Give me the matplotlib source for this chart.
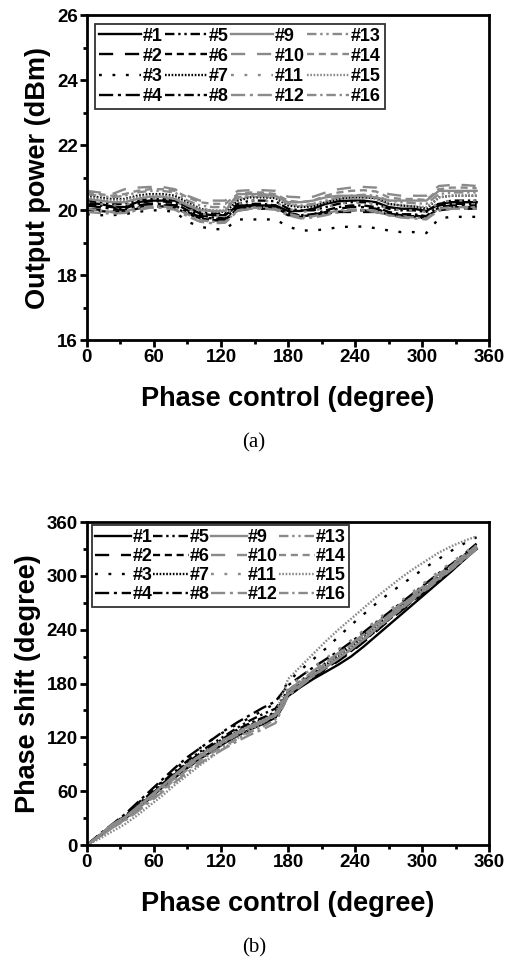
"""Two-panel figure: output power and phase shift versus phase control for 16 channels."""

import matplotlib

matplotlib.use("Agg")
import matplotlib.pyplot as plt
from matplotlib.ticker import MultipleLocator

phase_control = [0, 11.25, 22.5, 33.75, 45, 56.25, 67.5, 78.75, 90, 101.25, 112.5, 123.75,
                 135, 146.25, 157.5, 168.75, 180, 191.25, 202.5, 213.75, 225, 236.25, 247.5,
                 258.75, 270, 281.25, 292.5, 303.75, 315, 326.25, 337.5, 348.75]

channels = [f"#{k}" for k in range(1, 17)]

# output power (dBm), one list per channel
power = [
    [20.22, 20.2, 20.12, 20.1, 20.25, 20.3, 20.3, 20.3, 20.1, 19.9, 19.85, 19.85, 20.15, 20.15, 20.15, 20.15,
     19.98, 19.98, 20.05, 20.2, 20.28, 20.3, 20.3, 20.25, 20.1, 20.05, 20.05, 19.98, 20.2, 20.25, 20.25, 20.25],
    [20.05, 20.02, 19.98, 19.95, 20.1, 20.15, 20.15, 20.15, 19.95, 19.75, 19.7, 19.7, 20.0, 20.05, 20.05, 20.05,
     19.85, 19.85, 19.88, 19.92, 19.95, 19.95, 19.95, 19.95, 19.9, 19.85, 19.85, 19.78, 20.0, 20.05, 20.05, 20.05],
    [19.88, 19.85, 19.85, 19.88, 19.95, 20.0, 20.0, 19.95, 19.65, 19.5, 19.42, 19.42, 19.72, 19.72, 19.72, 19.72,
     19.5, 19.38, 19.38, 19.42, 19.48, 19.5, 19.5, 19.45, 19.38, 19.33, 19.33, 19.3, 19.75, 19.8, 19.8, 19.8],
    [20.15, 20.1, 20.05, 20.0, 20.15, 20.2, 20.2, 20.15, 19.95, 19.8, 19.75, 19.72, 20.05, 20.15, 20.15, 20.1,
     19.9, 19.8, 19.85, 19.95, 20.05, 20.1, 20.1, 20.05, 19.9, 19.8, 19.8, 19.75, 20.1, 20.15, 20.15, 20.15],
    [20.3, 20.25, 20.2, 20.2, 20.3, 20.35, 20.35, 20.3, 20.1, 19.95, 19.9, 19.88, 20.2, 20.3, 20.3, 20.28,
     20.05, 20.0, 20.0, 20.1, 20.2, 20.25, 20.25, 20.2, 20.05, 20.0, 20.0, 19.95, 20.2, 20.3, 20.3, 20.3],
    [20.0, 19.98, 19.95, 19.95, 20.05, 20.12, 20.12, 20.08, 19.9, 19.75, 19.7, 19.68, 20.05, 20.1, 20.1, 20.08,
     19.88, 19.82, 19.85, 19.9, 19.95, 20.0, 20.0, 19.95, 19.88, 19.82, 19.82, 19.8, 20.05, 20.1, 20.1, 20.1],
    [20.45, 20.4, 20.35, 20.35, 20.45, 20.5, 20.5, 20.45, 20.25, 20.05, 19.98, 19.95, 20.3, 20.4, 20.4, 20.38,
     20.15, 20.1, 20.12, 20.25, 20.35, 20.4, 20.4, 20.38, 20.2, 20.15, 20.12, 20.05, 20.4, 20.45, 20.45, 20.45],
    [20.2, 20.15, 20.1, 20.05, 20.2, 20.28, 20.28, 20.22, 20.0, 19.85, 19.78, 19.75, 20.1, 20.2, 20.2, 20.15,
     19.92, 19.85, 19.88, 20.0, 20.1, 20.15, 20.15, 20.1, 19.95, 19.88, 19.88, 19.82, 20.15, 20.2, 20.2, 20.2],
    [20.35, 20.3, 20.25, 20.25, 20.35, 20.42, 20.42, 20.35, 20.15, 20.0, 19.98, 19.98, 20.5, 20.5, 20.5, 20.45,
     20.25, 20.25, 20.3, 20.4, 20.45, 20.45, 20.45, 20.4, 20.3, 20.3, 20.3, 20.3, 20.6, 20.6, 20.6, 20.6],
    [20.6, 20.55, 20.5, 20.65, 20.7, 20.72, 20.72, 20.65, 20.45, 20.3, 20.3, 20.3, 20.6, 20.62, 20.62, 20.6,
     20.42, 20.4, 20.42, 20.55, 20.65, 20.7, 20.72, 20.7, 20.5, 20.45, 20.45, 20.45, 20.75, 20.78, 20.78, 20.75],
    [20.25, 20.2, 20.15, 20.15, 20.3, 20.38, 20.38, 20.3, 20.05, 19.9, 19.85, 19.85, 20.2, 20.3, 20.3, 20.25,
     20.05, 19.95, 19.98, 20.1, 20.2, 20.25, 20.25, 20.2, 20.05, 20.0, 20.0, 19.95, 20.25, 20.3, 20.3, 20.3],
    [19.95, 19.92, 19.9, 19.92, 20.0, 20.08, 20.08, 20.02, 19.82, 19.65, 19.6, 19.62, 19.98, 20.05, 20.05, 20.02,
     19.85, 19.75, 19.78, 19.85, 19.95, 20.0, 20.0, 19.95, 19.85, 19.78, 19.75, 19.72, 20.0, 20.05, 20.05, 20.05],
    [20.5, 20.45, 20.4, 20.45, 20.55, 20.6, 20.6, 20.55, 20.3, 20.15, 20.1, 20.1, 20.4, 20.45, 20.45, 20.42,
     20.2, 20.15, 20.2, 20.3, 20.4, 20.45, 20.48, 20.45, 20.3, 20.25, 20.22, 20.2, 20.5, 20.55, 20.55, 20.55],
    [20.55, 20.5, 20.45, 20.5, 20.6, 20.65, 20.65, 20.6, 20.4, 20.25, 20.2, 20.2, 20.5, 20.55, 20.55, 20.5,
     20.3, 20.25, 20.3, 20.45, 20.55, 20.6, 20.62, 20.58, 20.4, 20.35, 20.35, 20.32, 20.65, 20.7, 20.7, 20.68],
    [20.4, 20.35, 20.3, 20.32, 20.4, 20.45, 20.45, 20.4, 20.2, 20.05, 20.0, 20.0, 20.35, 20.42, 20.42, 20.4,
     20.2, 20.12, 20.15, 20.25, 20.35, 20.38, 20.4, 20.35, 20.2, 20.15, 20.12, 20.1, 20.4, 20.45, 20.45, 20.45],
    [20.05, 20.0, 19.95, 19.95, 20.08, 20.12, 20.12, 20.08, 19.88, 19.7, 19.65, 19.65, 20.0, 20.08, 20.08, 20.05,
     19.9, 19.8, 19.82, 19.9, 20.0, 20.02, 20.02, 19.98, 19.85, 19.8, 19.78, 19.75, 20.05, 20.1, 20.1, 20.1],
]

# measured phase shift (degree), one list per channel
shift = [
    [0, 10, 20, 29, 40, 52, 64, 75, 86, 96, 105, 114, 122, 129, 135, 142, 166, 176, 185, 193, 201, 210, 221, 233,
     245, 257, 269, 281, 293, 305, 318, 330],
    [0, 11, 21, 31, 43, 55, 67, 79, 90, 100, 109, 117, 124, 130, 135, 140, 165, 177, 187, 196, 205, 215, 226, 238,
     250, 261, 272, 284, 295, 306, 318, 330],
    [0, 11, 22, 33, 46, 58, 71, 84, 97, 108, 118, 127, 135, 142, 150, 158, 182, 195, 207, 219, 232, 245, 257, 269,
     280, 290, 300, 310, 319, 328, 336, 343],
    [0, 12, 23, 34, 47, 60, 73, 86, 98, 108, 118, 128, 137, 145, 153, 160, 178, 188, 198, 207, 216, 226, 237, 248,
     259, 270, 281, 292, 303, 313, 324, 336],
    [0, 11, 22, 32, 44, 57, 70, 82, 94, 104, 113, 122, 131, 139, 146, 152, 172, 183, 193, 203, 213, 223, 234, 246,
     257, 268, 279, 290, 301, 312, 323, 335],
    [0, 10, 21, 31, 42, 54, 66, 78, 89, 99, 108, 116, 124, 131, 137, 143, 167, 178, 188, 197, 206, 216, 227, 239,
     251, 262, 273, 285, 296, 307, 319, 331],
    [0, 10, 21, 30, 42, 54, 66, 78, 90, 100, 110, 119, 127, 134, 140, 147, 171, 181, 191, 201, 210, 220, 232, 244,
     256, 267, 278, 289, 300, 311, 322, 333],
    [0, 11, 22, 32, 43, 55, 68, 80, 92, 102, 111, 120, 129, 136, 142, 148, 170, 180, 190, 199, 208, 217, 228, 240,
     252, 263, 274, 286, 297, 308, 319, 331],
    [0, 11, 23, 31, 42, 54, 66, 78, 90, 100, 109, 118, 126, 133, 139, 146, 168, 179, 189, 198, 208, 218, 229, 241,
     253, 264, 275, 286, 297, 308, 319, 331],
    [0, 10, 21, 30, 42, 54, 66, 78, 89, 99, 108, 117, 125, 131, 137, 144, 172, 183, 194, 204, 214, 224, 235, 247,
     258, 269, 280, 291, 302, 312, 323, 334],
    [0, 10, 20, 29, 40, 52, 64, 76, 88, 98, 107, 116, 124, 131, 138, 146, 175, 187, 198, 208, 218, 228, 239, 250,
     261, 272, 283, 294, 305, 315, 325, 336],
    [0, 9, 19, 27, 37, 48, 59, 70, 81, 91, 100, 108, 116, 123, 129, 136, 166, 177, 188, 198, 208, 218, 229, 240,
     252, 263, 274, 285, 296, 307, 318, 330],
    [0, 10, 20, 29, 40, 51, 63, 75, 87, 97, 106, 115, 123, 130, 137, 145, 172, 183, 193, 203, 213, 223, 234, 245,
     256, 267, 278, 289, 300, 311, 322, 334],
    [0, 10, 21, 30, 41, 53, 65, 77, 88, 98, 107, 116, 124, 131, 137, 144, 170, 181, 192, 202, 212, 222, 233, 245,
     256, 267, 278, 289, 300, 311, 322, 333],
    [0, 7, 15, 23, 33, 44, 55, 67, 78, 89, 99, 109, 119, 128, 136, 146, 185, 199, 213, 227, 240, 252, 264, 276,
     287, 298, 308, 317, 326, 333, 339, 344],
    [0, 9, 19, 28, 38, 50, 61, 73, 84, 94, 103, 111, 119, 126, 132, 140, 168, 179, 189, 199, 208, 218, 229, 241,
     252, 263, 274, 286, 297, 308, 319, 331],
]

# on/off dash patterns (in line-width units), repeated for black and grey groups
DASHES = [
    None,                        # solid
    (6, 5),                      # long dash
    (1.2, 4.5),                  # sparse dots
    (6, 2, 1.3, 2),              # dash dot
    (4, 1.6, 1, 1.6, 1, 1.6),    # dash dot dot
    (3, 2),                      # short dash
    (0.7, 0.7),                  # dense dots
    (4, 1.6, 1, 1.6),            # short dash dot
]
BLACK, GREY = "#000000", "#8a8a8a"
LABEL_SIZE = 19.5

plt.rcParams["font.family"] = ["Liberation Sans", "DejaVu Sans"]
plt.rcParams["font.weight"] = "bold"


def style_axes(ax, ymin, ymax, ymajor, yminor):
    ax.set_xlim(0, 360)
    ax.set_ylim(ymin, ymax)
    ax.xaxis.set_major_locator(MultipleLocator(60))
    ax.xaxis.set_minor_locator(MultipleLocator(30))
    ax.yaxis.set_major_locator(MultipleLocator(ymajor))
    ax.yaxis.set_minor_locator(MultipleLocator(yminor))
    for spine in ax.spines.values():
        spine.set_linewidth(2.0)
    ax.tick_params(which="major", direction="out", length=5, width=2, labelsize=13.5, pad=1.5)
    ax.tick_params(which="minor", direction="out", length=3, width=2)
    for lab in ax.get_xticklabels() + ax.get_yticklabels():
        lab.set_fontweight("bold")
    ax.set_xlabel("Phase control (degree)", fontsize=LABEL_SIZE, fontweight="bold", labelpad=14)


def draw(ax, series):
    for k, (name, ys) in enumerate(zip(channels, series)):
        color = BLACK if k < 8 else GREY
        line, = ax.plot(phase_control, ys, color=color, linewidth=1.7, label=name)
        dash = DASHES[k % 8]
        if dash is not None:
            line.set_dashes(dash)


fig = plt.figure(figsize=(5.08, 9.64), dpi=100)

ax_a = fig.add_axes([0.171, 0.647, 0.792, 0.337])
draw(ax_a, power)
style_axes(ax_a, 16, 26, 2, 1)
ax_a.set_ylabel("Output power (dBm)", fontsize=LABEL_SIZE, fontweight="bold", labelpad=4)
leg = ax_a.legend(ncol=4, loc="upper left", bbox_to_anchor=(0.02, 0.975), borderaxespad=0,
                  handlelength=2.35, handletextpad=0.1, columnspacing=0.1,
                  labelspacing=0.18, borderpad=0.22, fancybox=False, edgecolor="black",
                  prop={"weight": "bold", "size": 13})
leg.get_frame().set_linewidth(1.3)
fig.text(0.5, 1 - 443 / 964, "(a)", ha="center", va="center", fontsize=15,
         family=["Liberation Serif", "DejaVu Serif"], fontweight="normal")

ax_b = fig.add_axes([0.171, 0.1234, 0.792, 0.3351])
draw(ax_b, shift)
style_axes(ax_b, 0, 360, 60, 30)
ax_b.set_ylabel("Phase shift (degree)", fontsize=LABEL_SIZE, fontweight="bold", labelpad=4)
leg = ax_b.legend(ncol=4, loc="upper left", bbox_to_anchor=(0.012, 0.99), borderaxespad=0,
                  handlelength=2.0, handletextpad=0.05, columnspacing=0.05,
                  labelspacing=0.12, borderpad=0.2, fancybox=False, edgecolor="black",
                  prop={"weight": "bold", "size": 13})
leg.get_frame().set_linewidth(1.3)
fig.text(0.5, 1 - 948 / 964, "(b)", ha="center", va="center", fontsize=15,
         family=["Liberation Serif", "DejaVu Serif"], fontweight="normal")

fig.savefig("out.png", dpi=100)
